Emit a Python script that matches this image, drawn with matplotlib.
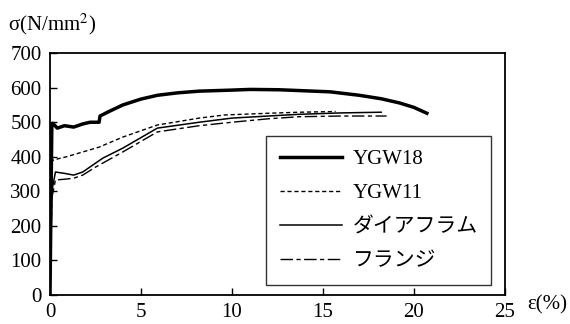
import matplotlib
matplotlib.use("Agg")
from matplotlib import pyplot as plt
from matplotlib.lines import Line2D

plt.rcParams['font.family'] = ['Liberation Serif', 'Noto Sans CJK JP', 'DejaVu Sans']
plt.rcParams['mathtext.fontset'] = 'stix'

# strain (%) / stress (N/mm2)
ygw18_eps = [0, 0.1, 0.15, 0.4, 0.8, 1.3, 1.8, 2.2, 2.7, 2.75, 3.2, 4.0, 5.0, 5.9, 7.0,
             8.2, 10, 11, 12.6, 14, 15.4, 17, 18.2, 19.2, 20, 20.8]
ygw18_sig = [0, 490, 497, 483, 490, 486, 495, 500, 500, 518, 530, 550, 567, 578, 585,
             590, 593, 595, 594, 591, 588, 578, 568, 556, 543, 524]

ygw11_eps = [0, 0.1, 0.15, 0.5, 0.9, 1.8, 2.7, 4.0, 5.9, 8.2, 9.6, 12, 13.7, 15.7]
ygw11_sig = [0, 380, 390, 395, 400, 414, 428, 457, 492, 512, 521, 526, 529, 531]

dia_eps = [0, 0.1, 0.3, 0.8, 1.3, 1.8, 2.9, 4.0, 5.9, 8.2, 10, 12, 13.7, 16, 18.2]
dia_sig = [0, 300, 356, 352, 347, 356, 396, 425, 483, 500, 512, 518, 523, 527, 529]

fl_eps = [0, 0.1, 0.3, 0.8, 1.3, 1.8, 2.5, 4.0, 5.9, 8.2, 10, 12, 13.7, 16, 18.5]
fl_sig = [0, 280, 333, 335, 338, 347, 370, 414, 472, 490, 500, 510, 516, 518, 518]

labels = ['YGW18', 'YGW11', 'ダイアフラム', 'フランジ']
xticks = [0, 5, 10, 15, 20, 25]
yticks = [0, 100, 200, 300, 400, 500, 600, 700]

fig = plt.figure(figsize=(5.7, 3.24), dpi=100)
ax = fig.add_axes([0.0877, 0.0895, 0.798, 0.7465])

ax.plot(ygw18_eps, ygw18_sig, color='black', lw=2.5, solid_capstyle='butt')
ax.plot(ygw11_eps, ygw11_sig, color='black', lw=1.0, dashes=(3, 2))
ax.plot(dia_eps, dia_sig, color='black', lw=1.1)
ax.plot(fl_eps, fl_sig, color='black', lw=1.0, dashes=(9, 2.5, 3, 2.5))

ax.set_xlim(0, 25)
ax.set_ylim(0, 700)
ax.set_xticks(xticks)
ax.set_yticks(yticks)
ax.tick_params(direction='in', length=5, width=1, labelsize=15, pad=6)
for s in ax.spines.values():
    s.set_linewidth(1.3)

handles = [
    Line2D([], [], color='black', lw=2.5),
    Line2D([], [], color='black', lw=1.0, dashes=(3, 2)),
    Line2D([], [], color='black', lw=1.1),
    Line2D([], [], color='black', lw=1.0, dashes=(9, 2.5, 3, 2.5)),
]
leg = ax.legend(handles, labels, loc='lower left', bbox_to_anchor=(0.475, 0.041),
                fontsize=15, frameon=True, fancybox=False, edgecolor='black',
                handlelength=3.0, handletextpad=0.5, labelspacing=0.7,
                borderpad=0.65, borderaxespad=0)
leg.get_frame().set_linewidth(1.0)
leg.get_frame().set_facecolor('white')

fig.text(0.014, 0.925, r'σ(N/mm$^{2}$)', fontsize=15, va='center', ha='left')
fig.text(0.925, 0.058, 'ε(%)', fontsize=15, va='center', ha='left')

fig.savefig('out.png', dpi=100)
